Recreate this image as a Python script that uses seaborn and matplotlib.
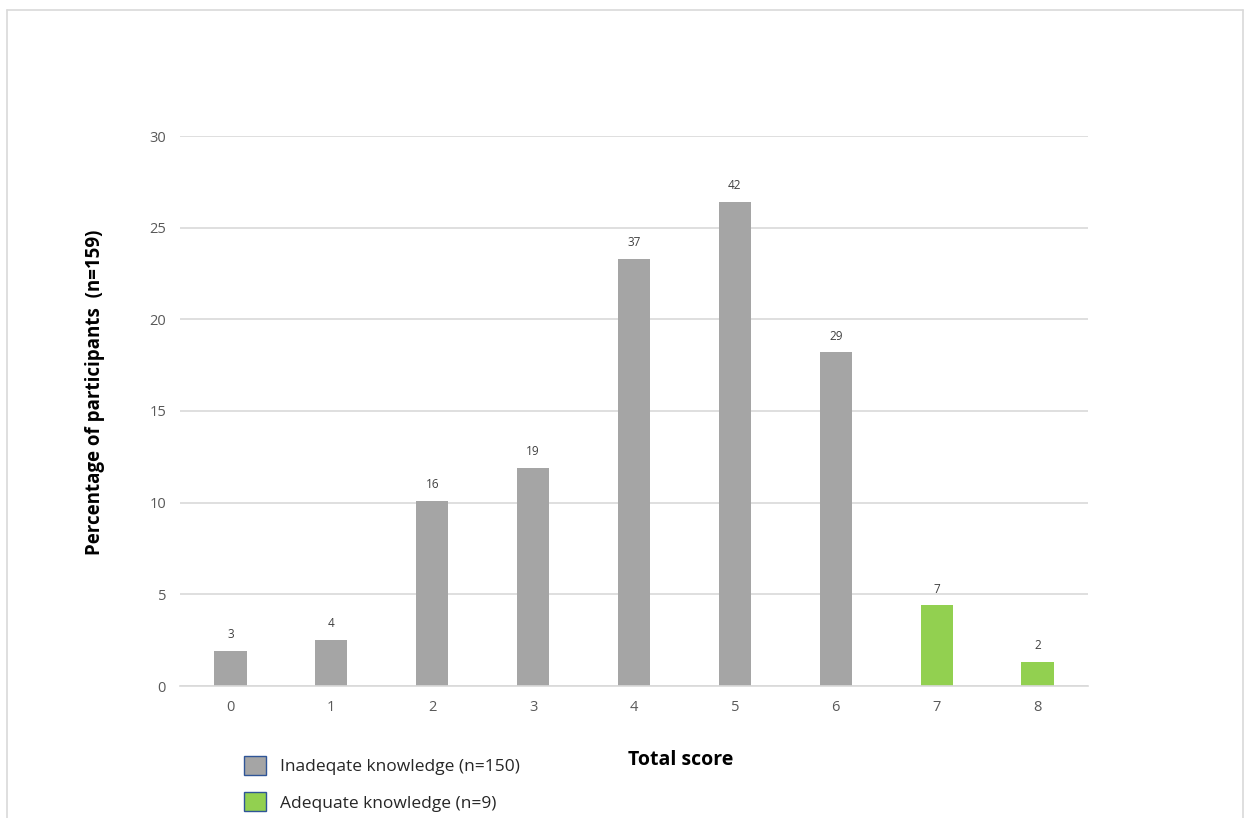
import matplotlib
matplotlib.use("Agg")
import matplotlib.pyplot as plt
import seaborn as sns
import pandas as pd
from matplotlib.patches import Patch
from matplotlib.lines import Line2D

scores = ["0", "1", "2", "3", "4", "5", "6", "7", "8"]
percentages = [1.9, 2.5, 10.1, 11.9, 23.3, 26.4, 18.2, 4.4, 1.3]
counts = [3, 4, 16, 19, 37, 42, 29, 7, 2]
groups = ["Inadeqate knowledge (n=150)"] * 7 + ["Adequate knowledge (n=9)"] * 2
legend_labels = ["Inadeqate knowledge (n=150)", "Adequate knowledge (n=9)"]

df = pd.DataFrame({"score": scores, "pct": percentages, "count": counts, "group": groups})

sns.set_style("white")
plt.rcParams["font.family"] = ["Open Sans", "DejaVu Sans"]

colors = {"Inadeqate knowledge (n=150)": "#A5A5A5", "Adequate knowledge (n=9)": "#92D050"}

fig = plt.figure(figsize=(12.44, 8.18), dpi=100)
ax = fig.add_axes([180 / 1244, 1 - 686 / 818, (1088 - 180) / 1244, (686 - 136) / 818])

sns.barplot(data=df, x="score", y="pct", hue="group", palette=colors, dodge=False,
            width=0.32, ax=ax, legend=False, linewidth=0, saturation=1)

ax.set_ylim(0, 30)
ax.set_xlim(-0.5, 8.5)
ax.set_yticks([0, 5, 10, 15, 20, 25, 30])
ax.yaxis.grid(True, color="#D9D9D9", linewidth=1.2)
ax.set_axisbelow(True)
for s in ["top", "right", "left"]:
    ax.spines[s].set_visible(False)
ax.spines["bottom"].set_color("#D9D9D9")
ax.spines["bottom"].set_linewidth(1.2)
ax.tick_params(axis="both", length=0, labelsize=10.5, colors="#595959", pad=10)
ax.set_xlabel("")
ax.set_ylabel("")

for i, (p, c) in enumerate(zip(percentages, counts)):
    ax.annotate(str(c), (i, p), xytext=(0, 7), textcoords="offset points",
                ha="center", va="bottom", fontsize=8.5, color="#404040")

fig.text(95 / 1244, 1 - 392 / 818, "Percentage of participants  (n=159)", rotation=90,
         ha="center", va="center", fontsize=13.5, fontweight="bold", color="black")
fig.text(681 / 1244, 1 - 760 / 818, "Total score", ha="center", va="center",
         fontsize=14, fontweight="bold", color="black")

handles = [Patch(facecolor=colors[l], edgecolor="#2F5597", linewidth=1.0) for l in legend_labels]
fig.legend(handles, legend_labels, loc="upper left", bbox_to_anchor=(228 / 1244, 1 - 740 / 818),
           frameon=False, fontsize=12.5, handlelength=1.3, handleheight=1.3,
           labelspacing=1.0, handletextpad=0.8, labelcolor="#262626")

x0, x1, y1 = 7 / 1244, 1243 / 1244, 1 - 10 / 818
for xs, ys in [([x0, x1], [y1, y1]), ([x0, x0], [0, y1]), ([x1, x1], [0, y1])]:
    fig.lines.append(Line2D(xs, ys, transform=fig.transFigure, color="#D9D9D9", linewidth=1.2))

fig.savefig("out.png", dpi=100, facecolor="white")
